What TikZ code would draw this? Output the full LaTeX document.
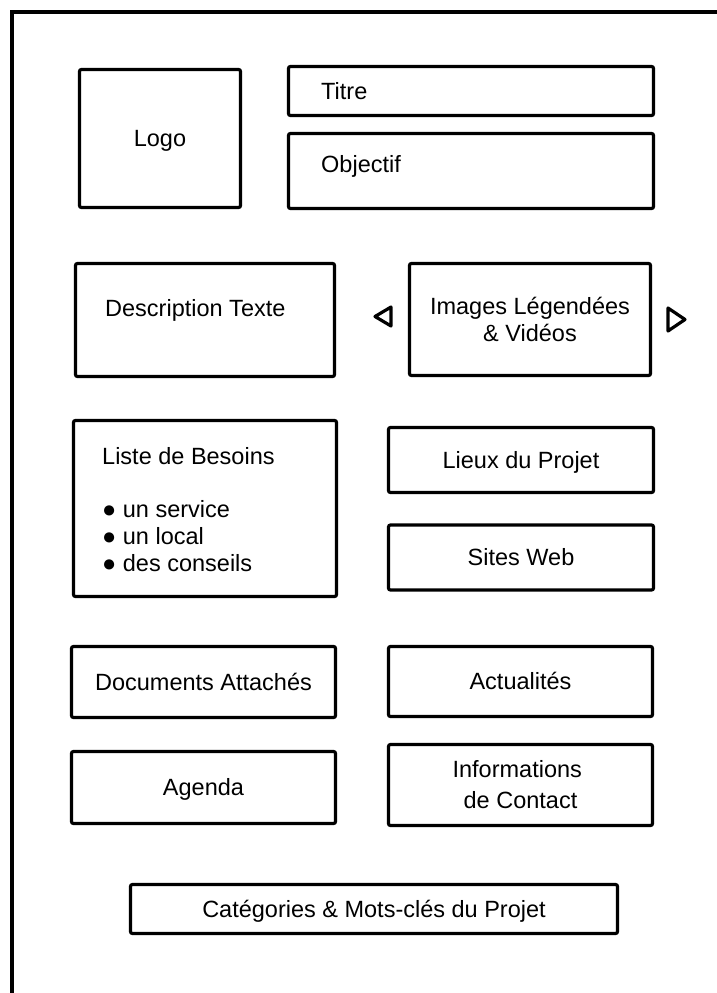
\documentclass[tikz,border=0pt]{standalone}
\usepackage{fontspec}
\setmainfont{Liberation Sans}
\begin{document}
\begin{tikzpicture}[x=1pt,y=-1pt,
  box/.style={draw=black,line width=3.2pt,rounded corners=2pt,inner sep=0pt,
    font=\fontsize{23.5}{27}\selectfont,align=center},
  one/.style={text height=16.8pt,text depth=0pt},
  lbl/.style={inner sep=0pt,font=\fontsize{23.5}{27}\selectfont,anchor=base west},
  tri/.style={draw=black,line width=3.2pt,line join=round}]
\useasboundingbox (0,0) rectangle (716,993);
\draw[line width=3.8pt] (12,1010) -- (12,12) -- (730,12);

\node[box,one,minimum width=161pt,minimum height=138pt] (logo) at (160,138.5) {Logo};
\node[box,minimum width=365pt,minimum height=49pt] (titre) at (471,91) {};
\node[lbl] (titret) at (321,99.5) {Titre};
\node[box,minimum width=365pt,minimum height=75pt] (obj) at (471,171) {};
\node[lbl] (objt) at (321,172.7) {Objectif};

\node[box,minimum width=259pt,minimum height=113pt] (desc) at (205,320) {};
\node[lbl] (desct) at (105,316) {Description Texte};
\node[box,minimum width=241pt,minimum height=112pt] (img) at (530,319.5) {Images Légendées\\ \& Vidéos};
\draw[tri] (375,316.5) -- (391,307) -- (391,326) -- cycle;
\draw[tri] (668,308) -- (668,331) -- (685,319.5) -- cycle;

\node[box,minimum width=263pt,minimum height=176pt] (liste) at (205,508.5) {};
\node[lbl] (l0) at (102,464) {Liste de Besoins};
\node[lbl] (l1) at (102,517) {● un service};
\node[lbl] (l2) at (102,544) {● un local};
\node[lbl] (l3) at (102,571) {● des conseils};

\node[box,one,minimum width=265pt,minimum height=65pt] (lieux) at (521,460) {Lieux du Projet};
\node[box,one,minimum width=265pt,minimum height=65pt] (sites) at (521,557.5) {Sites Web};
\node[box,one,minimum width=264pt,minimum height=71pt] (docs) at (203.5,682) {Documents Attachés};
\node[box,one,minimum width=264pt,minimum height=70pt] (actu) at (520.5,681.5) {Actualités};
\node[box,one,minimum width=264pt,minimum height=72pt] (agenda) at (203.5,787.5) {Agenda};
\node[box,minimum width=264pt,minimum height=81pt] (info) at (520.5,785) {Informations\kern6.5pt\\[4pt] de Contact};
\node[box,one,minimum width=487pt,minimum height=49pt] (cat) at (374,909) {Catégories \& Mots-clés du Projet};
\end{tikzpicture}
\end{document}
